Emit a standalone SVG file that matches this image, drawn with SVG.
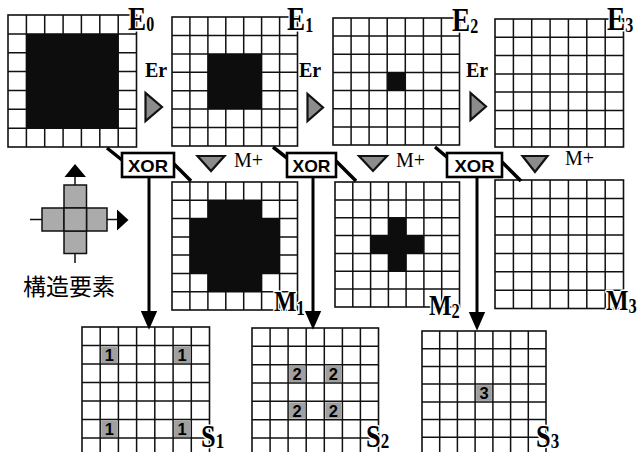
<svg xmlns="http://www.w3.org/2000/svg" width="638" height="452" viewBox="0 0 638 452">
<defs>
<style>
.cell{fill:#fff;stroke:#111;stroke-width:1.6}
.gl{fill:none;stroke:#111;stroke-width:1.5}
.blk{fill:#0d0d0d}
.gc{fill:#a0a0a0}
.lbl{font-family:"Liberation Serif",serif;font-weight:bold;fill:#000;stroke:#fff;stroke-width:3;paint-order:stroke;stroke-linejoin:round}
.er{font-family:"Liberation Serif",serif;font-weight:bold;font-size:20px;fill:#000}
.mp{font-family:"Liberation Serif",serif;font-size:20px;fill:#000}
.xb{fill:#fff;stroke:#000;stroke-width:2.6}
.xt{font-family:"Liberation Sans",sans-serif;font-weight:bold;font-size:17px;text-anchor:middle;fill:#000}
.num{font-family:"Liberation Sans",sans-serif;font-weight:bold;font-size:16.5px;text-anchor:middle;fill:#000}
.tri{fill:#8c8c8c;stroke:#111;stroke-width:2.2;stroke-linejoin:miter}
.diag{stroke:#000;stroke-width:3.5;fill:none}
.arr{stroke:#000;stroke-width:3;fill:none;marker-end:url(#ah)}
.se{fill:#ababab;stroke:#111;stroke-width:1.5}
.ax{stroke:#111;stroke-width:1.5;fill:none}
.jp{font-family:"Noto Sans CJK JP","Noto Sans CJK SC",sans-serif;font-size:23px;fill:#000}
</style>
<marker id="ah" markerUnits="userSpaceOnUse" markerWidth="20" markerHeight="20" refX="1" refY="7" orient="auto" viewBox="0 0 17 14">
<path d="M0,0 L16,7 L0,14 Z" fill="#000"/>
</marker>
</defs>
<rect width="638" height="452" fill="#fff"/>

<!-- E grids -->
<g id="E0">
<rect class="cell" x="8" y="15" width="128.5" height="132"/>
<path class="gl" d="M26.4,15V147M44.7,15V147M63.1,15V147M81.4,15V147M99.8,15V147M118.2,15V147M8,33.9H136.5M8,52.7H136.5M8,71.6H136.5M8,90.4H136.5M8,109.3H136.5M8,128.2H136.5"/>
<rect class="blk" x="26.4" y="33.9" width="91.8" height="94.3"/>
<text class="lbl" font-size="34" transform="translate(128,30) scale(0.8,1)">E<tspan font-size="20" dy="1">0</tspan></text>
</g>
<g id="E1">
<rect class="cell" x="172" y="17" width="125.5" height="129"/>
<path class="gl" d="M189.9,17V146M207.9,17V146M225.8,17V146M243.7,17V146M261.6,17V146M279.6,17V146M172,35.4H297.5M172,53.9H297.5M172,72.3H297.5M172,90.7H297.5M172,109.1H297.5M172,127.6H297.5"/>
<rect class="blk" x="207.9" y="53.9" width="53.7" height="55.2"/>
<text class="lbl" font-size="34" transform="translate(287,30) scale(0.8,1)">E<tspan font-size="20" dy="1.5">1</tspan></text>
</g>
<g id="E2">
<rect class="cell" x="333" y="18" width="126.5" height="127"/>
<path class="gl" d="M351.1,18V145M369.1,18V145M387.2,18V145M405.3,18V145M423.4,18V145M441.4,18V145M333,36.1H459.5M333,54.3H459.5M333,72.4H459.5M333,90.6H459.5M333,108.7H459.5M333,126.9H459.5"/>
<rect class="blk" x="387.2" y="72.4" width="18.1" height="18.2"/>
<text class="lbl" font-size="34" transform="translate(452,31) scale(0.8,1)">E<tspan font-size="20" dy="1.5">2</tspan></text>
</g>
<g id="E3">
<rect class="cell" x="495" y="19" width="128.5" height="128"/>
<path class="gl" d="M513.4,19V147M531.7,19V147M550.1,19V147M568.4,19V147M586.8,19V147M605.2,19V147M495,37.3H623.5M495,55.6H623.5M495,73.9H623.5M495,92.1H623.5M495,110.4H623.5M495,128.7H623.5"/>
<text class="lbl" font-size="34" transform="translate(607,30) scale(0.8,1)">E<tspan font-size="20" dy="1.5">3</tspan></text>
</g>

<!-- M grids -->
<g id="M1">
<rect class="cell" x="172" y="182" width="125.5" height="128"/>
<path class="gl" d="M189.9,182V310M207.9,182V310M225.8,182V310M243.7,182V310M261.6,182V310M279.6,182V310M172,200.3H297.5M172,218.6H297.5M172,236.9H297.5M172,255.1H297.5M172,273.4H297.5M172,291.7H297.5"/>
<path class="blk" d="M207.9,200.3H261.6V218.6H279.6V273.4H261.6V291.7H207.9V273.4H189.9V218.6H207.9Z"/>
<text class="lbl" font-size="29" transform="translate(274,311) scale(0.82,1)">M<tspan font-size="20" dy="4">1</tspan></text>
</g>
<g id="M2">
<rect class="cell" x="335" y="182" width="124.5" height="125"/>
<path class="gl" d="M352.8,182V307M370.6,182V307M388.4,182V307M406.1,182V307M423.9,182V307M441.7,182V307M335,199.9H459.5M335,217.7H459.5M335,235.6H459.5M335,253.4H459.5M335,271.3H459.5M335,289.1H459.5"/>
<path class="blk" d="M388.4,217.7H406.1V235.6H423.9V253.4H406.1V271.3H388.4V253.4H370.6V235.6H388.4Z"/>
<text class="lbl" font-size="29" transform="translate(429,315) scale(0.82,1)">M<tspan font-size="20" dy="3">2</tspan></text>
</g>
<g id="M3">
<rect class="cell" x="495" y="180" width="128.5" height="128.5"/>
<path class="gl" d="M513.4,180V308.5M531.7,180V308.5M550.1,180V308.5M568.4,180V308.5M586.8,180V308.5M605.2,180V308.5M495,198.4H623.5M495,216.7H623.5M495,235.1H623.5M495,253.4H623.5M495,271.8H623.5M495,290.2H623.5"/>
<text class="lbl" font-size="29" transform="translate(606,310) scale(0.82,1)">M<tspan font-size="20" dy="3">3</tspan></text>
</g>

<!-- S grids -->
<g id="S1">
<rect class="cell" x="82" y="327" width="127.5" height="129.5"/>
<path class="gl" d="M100.2,327V456.5M118.4,327V456.5M136.6,327V456.5M154.8,327V456.5M173.1,327V456.5M191.3,327V456.5M82,345.5H209.5M82,364H209.5M82,382.5H209.5M82,401H209.5M82,419.5H209.5M82,438H209.5"/>
<rect class="gc" x="101.2" y="346.5" width="16.2" height="16.5"/>
<rect class="gc" x="174.1" y="346.5" width="16.2" height="16.5"/>
<rect class="gc" x="101.2" y="420.5" width="16.2" height="16.5"/>
<rect class="gc" x="174.1" y="420.5" width="16.2" height="16.5"/>
<text class="num" x="109.3" y="360.8">1</text>
<text class="num" x="182.2" y="360.8">1</text>
<text class="num" x="109.3" y="434.8">1</text>
<text class="num" x="182.2" y="434.8">1</text>
<text class="lbl" font-size="31" transform="translate(201,447) scale(0.85,1)">S<tspan font-size="20" dy="1">1</tspan></text>
</g>
<g id="S2">
<rect class="cell" x="252" y="328" width="126.5" height="128.3"/>
<path class="gl" d="M270.1,328V456.3M288.1,328V456.3M306.2,328V456.3M324.3,328V456.3M342.4,328V456.3M360.4,328V456.3M252,346.3H378.5M252,364.7H378.5M252,383H378.5M252,401.3H378.5M252,419.7H378.5M252,438H378.5"/>
<rect class="gc" x="289.1" y="365.7" width="16.1" height="16.3"/>
<rect class="gc" x="325.3" y="365.7" width="16.1" height="16.3"/>
<rect class="gc" x="289.1" y="402.3" width="16.1" height="16.4"/>
<rect class="gc" x="325.3" y="402.3" width="16.1" height="16.4"/>
<text class="num" x="297.2" y="379.9">2</text>
<text class="num" x="333.4" y="379.9">2</text>
<text class="num" x="297.2" y="416.5">2</text>
<text class="num" x="333.4" y="416.5">2</text>
<text class="lbl" font-size="31" transform="translate(366,447) scale(0.85,1)">S<tspan font-size="20" dy="1">2</tspan></text>
</g>
<g id="S3">
<rect class="cell" x="422" y="331" width="124" height="124"/>
<path class="gl" d="M439.7,331V455M457.4,331V455M475.1,331V455M492.9,331V455M510.6,331V455M528.3,331V455M422,348.7H546M422,366.4H546M422,384.1H546M422,401.9H546M422,419.6H546M422,437.3H546"/>
<rect class="gc" x="476.1" y="385.1" width="15.8" height="15.8"/>
<text class="num" x="484" y="399">3</text>
<text class="lbl" font-size="31" transform="translate(536,447) scale(0.85,1)">S<tspan font-size="20" dy="1">3</tspan></text>
</g>

<!-- structuring element -->
<g id="structuring-element">
<path class="ax" d="M75,176V263M30,219.5H117"/>
<polygon points="75,164 64.5,177 86,177" fill="#000"/>
<polygon points="128.5,220 117,209.5 117,230.5" fill="#000"/>
<rect class="se" x="64" y="185" width="22.5" height="23"/>
<rect class="se" x="42" y="208" width="22" height="23"/>
<rect class="se" x="86.5" y="208" width="20.5" height="23"/>
<rect class="se" x="64" y="231" width="22.5" height="22.5"/>
<rect class="se" x="64" y="208" width="22.5" height="23"/>
<text class="jp" x="23" y="295">構造要素</text>
</g>

<!-- connectors -->
<g id="connectors">
<path class="diag" d="M107,148L122,160M172,162L191,181"/>
<path class="diag" d="M273,147L287,158M336,161L356,181"/>
<path class="diag" d="M435,147L448,158M502,162L521,181"/>
<path class="arr" d="M149,177V312"/>
<path class="arr" d="M313,177V312"/>
<path class="arr" d="M477,177V313"/>
<g id="erosion-steps">
<text class="er" x="145" y="77">Er</text>
<polygon class="tri" points="145.5,93 145.5,121 162,107"/>
<text class="er" x="299" y="77">Er</text>
<polygon class="tri" points="307.5,94 307.5,121 323,107.5"/>
<text class="er" x="466" y="77">Er</text>
<polygon class="tri" points="470.5,93 470.5,120 486,106.5"/>
</g>
<g id="dilation-steps">
<polygon class="tri" points="197.5,156 224.5,156 211,171"/>
<text class="mp" x="234" y="167">M+</text>
<polygon class="tri" points="359,156 387,156 373,171"/>
<text class="mp" x="396" y="167">M+</text>
<polygon class="tri" points="522.5,156 547.5,156 535,172"/>
<text class="mp" x="565" y="165">M+</text>
</g>
</g>

<!-- XOR nodes -->
<g id="XOR1"><rect class="xb" x="122" y="153" width="52" height="24"/><text class="xt" x="148" y="171.5" textLength="40" lengthAdjust="spacingAndGlyphs">XOR</text></g>
<g id="XOR2"><rect class="xb" x="287" y="153" width="49" height="24"/><text class="xt" x="311.5" y="171.5" textLength="38" lengthAdjust="spacingAndGlyphs">XOR</text></g>
<g id="XOR3"><rect class="xb" x="447" y="153" width="55" height="24"/><text class="xt" x="474.5" y="171.5" textLength="40" lengthAdjust="spacingAndGlyphs">XOR</text></g>
</svg>
